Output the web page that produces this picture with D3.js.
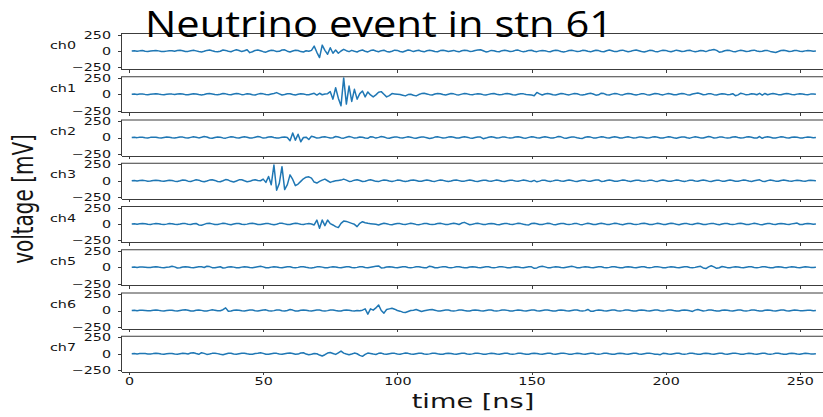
<!DOCTYPE html>
<html>
<head>
<meta charset="utf-8">
<script src="https://cdn.jsdelivr.net/npm/d3@7"></script>
<style>
  html, body { margin: 0; padding: 0; background: #fff; overflow: hidden; }
  svg { display: block; }
</style>
</head>
<body>
<svg id="chart" width="823" height="417"></svg>
<script>
// Recorded waveforms, one sample per ns, values in mV
const channelNames = ["ch0", "ch1", "ch2", "ch3", "ch4", "ch5", "ch6", "ch7"];

const ch0 = [
  0, 3, -5, 2, 6, -3, -8, 0, 5, 8, 2, -6, -9, -2, 5, 3,
  -3, 8, 12, 3, -9, -6, 5, 10, 2, -8, -15, -5, 9, 14, 3, -6,
  -12, -3, 15, 9, -5, -12, 6, 18, 8, -9, 3, 20, -25, -12, 9, 15,
  5, -10, -18, 0, 12, 6, -8, -5, 15, 18, -3, -15, 0, 12, 8, -9,
  -15, 3, -5, 10, 75, -20, -100, 90, 10, -50, 50, -35, 15, -35, 0, 25,
  5, -10, 10, -5, -15, 5, 15, -3, -14, 6, 14, 0, -12, 5, 12, -6,
  -14, -3, 13, 9, -8, -16, 0, 14, 6, -9, 3, 12, -5, -13, 3, 10,
  5, -8, -12, 6, 13, 3, -9, 0, 9, -5, -13, 3, 12, 8, -6, -3,
  8, 15, 20, 3, -14, -6, 9, 5, -8, -12, 5, 13, 3, -9, -3, 10,
  14, -2, -13, -5, 9, 12, -3, -10, 2, 9, 5, -6, -12, 3, 13, 6,
  -8, -16, -6, 8, 12, 2, -9, -3, 10, 8, -5, -13, 0, 12, 6, -8,
  -12, 3, 14, 5, -9, -6, 8, 13, 0, -10, -5, 9, 14, 3, -9, -14,
  -3, 10, 8, -6, -13, 2, 12, 9, -5, -12, 0, 13, 5, -8, -3, 9,
  12, -2, -10, -3, 8, 5, -9, 6, 14, 24, 10, -18, -12, 3, 12, 6,
  -6, -12, 2, 10, 5, -8, -5, 8, 13, 0, -9, -3, 9, 6, -6, -14,
  -22, -8, 8, 13, 3, -8, -3, 9, 6, -5, -9, 2, 8, 3, -3, 0
];
const ch1 = [
  0, 2, -3, 3, 5, -2, -6, 0, 3, 6, 2, -5, -8, 0, 5, 2,
  -5, 3, 9, 5, -6, -9, 0, 8, 5, -3, -10, -3, 6, 12, 5, -5,
  -9, 0, 10, 6, -5, -9, 3, 13, 6, -6, -2, 9, 5, -8, -12, 2,
  10, 6, -5, -9, 3, 12, 25, 6, -12, -5, 8, 9, -3, -10, 0, 8,
  5, -6, -9, 3, 15, -12, 15, -8, 3, 9, 40, -75, 100, -60, -175, 250,
  -150, 125, -110, 75, -75, 10, 50, -40, 35, -10, -40, -10, 30, 40, 0, -40,
  -20, 10, 5, 0, -5, -15, -25, -5, 0, -15, -25, -5, 10, 15, 5, -6,
  -12, 3, 13, 8, -5, -12, 0, 10, 6, -6, -10, 2, 12, 6, -5, -9,
  2, 9, 5, -6, -12, -2, 8, 10, 0, -9, -5, 6, 13, 5, -8, -10,
  0, 9, 6, -5, -8, -12, -22, 28, 6, -12, 3, 12, 5, -8, -12, 0,
  10, 6, -5, -10, 2, 12, 8, -6, -13, -3, 9, 14, 3, -14, -8, 16,
  10, -8, -12, 2, 10, 6, -6, -10, 3, 13, 8, -5, -12, -2, 9, 6,
  -6, -12, 0, 12, 9, -5, -10, 2, 10, 5, -8, -9, 3, 12, 6, -6,
  -12, 3, 12, 18, 8, -8, -5, 9, 6, -6, -10, 0, 9, 5, -6, -3,
  9, -22, -10, 16, 6, -9, -3, 8, 5, -8, 14, -15, 12, -8, 3, 10,
  5, -6, -9, 3, 10, 6, -5, -8, 2, 9, 5, -3, -6, 2, 5, 0
];
const ch2 = [
  0, 3, -2, 5, 2, -3, -6, 2, 5, 3, -5, -8, 0, 6, 3, -3,
  -8, 0, 9, 6, -5, -9, 2, 10, 5, -6, 3, 16, 8, -8, -12, 0,
  9, 5, -6, -10, 2, 12, 6, -5, -9, 3, 10, 5, -8, -6, 5, 14,
  6, -9, -5, 8, 10, 0, -9, -6, 5, 9, 0, -50, 70, -40, 50, -65,
  0, 5, -30, 20, 8, -9, -5, 8, 12, 2, -9, -3, 16, 8, -6, -10,
  5, 16, 6, -9, -3, 8, 5, -8, -12, 12, 6, -9, 2, 16, 8, -6,
  -12, 0, 9, 6, -5, -9, 2, 10, 5, -6, -10, 0, 9, 6, -5, -16,
  -9, 6, 10, 2, -8, -5, 6, 12, 3, -8, -9, 3, 10, 5, -6, -10,
  0, 9, 6, -18, -9, 5, 12, 3, -8, -5, 6, 9, -2, -9, -3, 8,
  12, 3, -8, -10, 2, 10, 6, -5, -9, 3, 10, 5, -6, -9, 2, 16,
  10, -6, -10, 0, 9, 6, -5, -12, -14, 3, 10, 6, -6, -9, 2, 10,
  6, -5, -9, 3, 12, 5, -8, -6, 5, 10, 2, -8, -5, 6, 9, 0,
  -9, -5, 6, 10, 3, -6, -9, 2, 12, 6, -5, -12, 0, 9, 8, -5,
  -10, 2, 10, 5, -6, -9, 3, 14, 6, -8, -5, 6, 9, -2, -9, -3,
  8, 10, 0, -9, -5, 6, 12, 3, -8, -9, 15, -12, 5, 10, 3, -6,
  -9, 2, 10, 6, -5, -8, 3, 9, 5, -6, -8, 2, 8, 3, -3, 0
];
const ch3 = [
  0, 5, -3, 3, 8, 2, -6, -5, 3, 9, 5, -5, -9, 0, 8, 5,
  -6, -10, 0, 12, 8, -6, -12, 2, 14, 9, -8, -14, -3, 10, 16, 5,
  -12, -16, 0, 18, 10, -9, -18, -3, 14, 16, 0, -14, -9, 8, 14, 5,
  0, 25, -25, 65, -60, 240, -145, -40, 215, -135, -60, 90, 20, -75, -50, -10,
  30, 55, 60, 40, -20, -35, -10, 10, 25, 0, -25, -10, 0, 5, 10, 25,
  10, -10, -6, 9, 15, 3, -12, -8, 6, 14, 5, -9, -13, 2, 12, 8,
  -5, -12, -2, 10, 9, -3, -10, -5, 8, 13, 3, -8, -9, 3, 12, 5,
  -8, -10, 2, 10, 6, -5, -12, -3, 9, 12, 2, -9, -6, 5, 10, 3,
  -6, -10, 0, 9, 8, -5, -9, 2, 12, 5, -8, -10, 0, 9, 6, -5,
  -9, 2, 10, 5, -6, -12, 5, -16, -6, 9, 8, -3, -10, -2, 9, 6,
  -5, -9, 3, 12, 5, -6, -10, 0, 9, 6, -6, -9, 3, 13, 12, -10,
  -8, 5, 10, 3, -8, -9, 2, 10, 6, -5, -10, 0, 9, 8, -3, -9,
  -2, 9, 6, -6, -10, 3, 12, 5, -8, -9, 2, 10, 6, -5, -12, -2,
  9, 8, -5, -9, 3, 12, 5, -6, -10, 0, 9, 6, -6, -9, 3, 10,
  5, -8, -9, 2, 10, 6, -5, -10, 0, 9, 14, -6, -12, 2, 10, 5,
  -6, -9, 3, 10, 5, -5, -8, 2, 9, 5, -5, -8, 2, 6, 3, 0
];
const ch4 = [
  0, 3, -3, 2, 6, 3, -5, -6, 2, 8, 5, -3, -8, -2, 6, 5,
  -3, -8, 0, 9, 6, -5, -9, 3, 8, -14, -20, -6, 9, 12, 2, -8,
  -9, 2, 10, 6, -5, -10, 0, 9, 8, -3, -9, -2, 8, 10, 3, -6,
  -9, 0, 9, 6, -5, -12, -3, 10, 12, 2, -9, -8, 5, 12, 6, -5,
  -9, 2, 8, 0, -15, 60, -65, 60, -25, 60, 5, -15, -40, -55, 10, 45,
  40, 25, 10, -5, -40, 10, 35, 20, 10, 5, 0, -5, -15, 0, 10, 5,
  -6, -10, 0, 9, 6, -5, -9, 2, 10, 5, -6, -10, -2, 9, 8, -3,
  -9, -3, 8, 10, 2, -8, -6, 5, 10, 3, -8, 14, 25, 6, -12, -5,
  6, 10, 2, -9, -6, 5, 9, 3, -6, -10, 0, 9, 6, -5, -9, 2,
  10, 6, -5, -12, -14, 8, 12, 3, -8, -9, 2, 10, 6, -6, -10, 0,
  9, 8, -3, -9, -2, 9, 6, -6, -10, 2, 12, 5, -8, -9, 3, 10,
  5, -6, -9, 2, 10, 6, -5, -10, 0, 9, 8, -3, -9, -2, 8, 10,
  3, -8, -9, 2, 10, 5, -6, -9, 3, 12, 6, -5, -10, 0, 9, 6,
  -5, -9, 3, 10, 5, -8, -9, 2, 9, 6, -5, -10, 0, 9, 8, -3,
  -9, -2, 8, 10, 3, -6, -9, 2, 10, 5, -6, -10, 0, 9, 6, -5,
  -8, 3, 9, 5, -5, -8, 2, 8, 14, -8, -6, 3, 8, 3, -3, 0
];
const ch5 = [
  0, 2, -3, 3, 5, 0, -5, -3, 3, 6, 2, -5, -6, 0, 5, 16,
  6, -12, -9, 3, 9, 5, -5, -8, 0, 8, 6, -3, 16, 10, -6, -9,
  0, 8, -12, -6, 5, 9, 2, -6, -8, 2, 9, 5, -5, -8, 0, 8,
  16, 6, -8, -9, 2, 9, 5, -5, -9, 0, 8, 6, -3, -9, -2, 8,
  9, 0, -8, -12, -5, 6, 9, 2, -6, -8, 2, 9, 5, -5, -9, 0,
  8, 6, -3, -9, -2, 9, 8, -3, -8, 0, 8, 14, 20, -10, -8, 3,
  9, 5, -5, -9, 0, 8, 6, -3, -8, -2, 8, 9, 0, -8, -6, 16,
  8, -8, -9, 2, 9, 6, -3, -9, -2, 8, 9, 0, -8, -6, 3, 9,
  5, -5, -9, 0, 8, 6, -3, -8, -2, 8, 9, 2, -6, -8, 2, 9,
  5, -5, -9, 0, 8, 6, -16, -10, 9, 16, 6, -6, -8, 2, 9, 5,
  -5, -8, 0, 8, 16, 6, -8, -9, 2, 9, 5, -5, -9, 0, 8, 6,
  -3, -9, -2, 8, 9, 0, -8, -6, 3, 9, 5, -5, -9, 0, 8, 6,
  -3, -8, -2, 8, 9, 2, -6, -8, 2, 9, 5, -5, -9, 0, 8, 6,
  -3, -9, -2, 9, 14, -10, -20, 6, 22, 6, -16, -8, 12, 5, -6, -8,
  2, 9, 5, -5, -9, 0, 8, 6, -3, -9, -2, 8, 9, 0, -8, -6,
  3, 9, 5, -5, -8, 2, 8, 5, -3, -6, 0, 6, 5, -2, -3, 0
];
const ch6 = [
  0, 3, -2, 3, 5, 0, -5, -3, 3, 6, 2, -5, -6, 0, 5, 3,
  -5, -8, 0, 8, 12, 3, -9, -6, 3, 8, 2, -6, -8, 2, 10, 5,
  -5, -3, 12, 40, -10, -8, 3, 9, 5, -5, -8, 0, 8, 6, -3, -8,
  0, 8, 10, -3, -9, -2, 8, 6, -3, -8, 0, 14, 6, -8, -6, 3,
  9, 5, -5, -8, 0, 8, 6, -3, -9, -2, 8, 9, 0, -8, -6, 3,
  9, 5, -5, -6, 0, -5, 5, 25, -55, 25, 5, 40, 85, 0, -40, 15,
  25, 35, 20, 0, -10, -25, -30, -15, 0, 5, 15, 0, -15, -5, 5, 10,
  15, 5, -6, -9, 0, 8, 6, -3, -8, -2, 8, 9, 0, -8, -6, 3,
  9, 5, -5, -9, 0, 8, 6, -3, -9, -2, 8, 9, 2, -6, -8, 2,
  9, 5, -5, -9, 0, 8, 6, -3, -8, 0, 8, 9, 0, -8, -6, 3,
  9, 5, -5, -8, 0, 8, 6, -3, -9, -2, 16, -10, -12, 2, 9, 5,
  -5, -9, 0, 8, 6, -3, -8, -2, 8, 9, 0, -8, -6, 3, 9, 5,
  -5, -9, 0, 8, 6, -3, -9, -2, 8, 9, 0, -8, -6, 3, 9, 5,
  -5, -14, 6, 16, 3, -9, -2, 8, 9, 0, -8, -6, 3, 9, 5, -5,
  -9, 0, 8, 6, -3, -9, -2, 8, 9, 0, -8, -6, 3, 9, 5, -5,
  -8, 0, 8, 6, -3, -8, 0, 6, 5, -2, -5, 0, 5, 3, -2, 0
];
const ch7 = [
  0, 3, -2, 2, 5, 2, -3, -5, 2, 6, 3, -3, -6, 0, 5, 3,
  -3, -6, 0, 6, 5, -3, 12, 16, 3, -8, 16, 6, -10, -5, 6, 9,
  2, -8, -16, -3, 8, 6, -3, -9, 0, 8, 9, 0, -8, -6, 3, 9,
  16, 6, -8, -9, 0, 9, 6, -5, -9, 0, 8, 10, 3, -9, -5, 12,
  15, -5, -15, -8, 5, 0, -20, -35, -15, 10, 20, 5, -10, 15, 40, 10,
  -5, -15, -5, 10, 0, -25, -40, -10, 10, 5, -5, -12, 6, 10, -3, -9,
  0, 9, 6, -5, -9, 2, 10, 6, -5, -9, 0, 8, 8, -3, -9, -2,
  8, 9, 0, -8, -6, 3, 9, 5, -5, -9, 0, 8, 6, -3, -8, -2,
  8, 9, 2, -6, -8, 2, 9, 5, -5, -9, 0, 8, 6, -3, -9, -2,
  8, 9, 0, -8, -6, 3, 9, 5, -5, -9, 0, 8, 6, -3, -8, 0,
  8, 9, 2, -6, -8, 2, 9, 5, -5, -9, 0, 8, 6, -3, -9, -2,
  8, 9, 0, -8, -6, 3, 9, 5, -5, -9, 0, 8, 6, -3, -8, 0,
  8, 9, 2, -6, -8, -14, 6, 5, -5, -9, 0, 8, 6, -3, -9, -2,
  8, 9, 0, -8, -6, 3, 9, 5, -5, -9, 0, 8, 6, -3, -8, 0,
  8, 9, 2, -6, -8, 2, 9, 5, -5, -9, 0, 8, 6, -3, -9, -2,
  8, 9, 0, -8, -6, 3, 8, 5, -5, -8, 0, 6, 5, -2, -5, 0
];

const traces = [ch0, ch1, ch2, ch3, ch4, ch5, ch6, ch7];
const firstSampleNs = 1;
const samplePeriodNs = 1;

const xTicks = [0, 50, 100, 150, 200, 250];
const yTicks = [-250, 0, 250];
const yTickLabels = ["\u2212250", "0", "250"];

const titleText = "Neutrino event in stn 61";
const xLabelText = "time [ns]";
const yLabelText = "voltage [mV]";

// ---- layout ----
const W = 823, H = 417;
const plotLeft = 121, plotRight = 832;
const firstTop = 33, panelPitch = 43.25, panelH = 36;
const textStretch = 1.43;           // horizontal widening of the figure text
const axisColor = "#3c3c3c";
const textColor = "#141414";
const lineColor = "#1f77b4";
const mplFont = "'DejaVu Sans', sans-serif";

const svg = d3.select("#chart");
svg.append("rect").attr("width", W).attr("height", H).attr("fill", "#fff");

const x = d3.scaleLinear().domain([-3, 262]).range([plotLeft, plotRight]);
const y = d3.scaleLinear().domain([-275, 275]).range([panelH, 0]);

const line = d3.line()
  .x((v, i) => x(firstSampleNs + i * samplePeriodNs))
  .y(v => y(v));

traces.forEach((trace, k) => {
  const top = firstTop + k * panelPitch;
  const g = svg.append("g").attr("transform", `translate(0,${top})`);
  const isLast = k === traces.length - 1;

  // top spine
  g.append("line")
    .attr("x1", plotLeft).attr("x2", plotRight)
    .attr("y1", 0.5).attr("y2", 0.5)
    .attr("stroke", axisColor).attr("stroke-width", 1);

  // y axis
  const yAxis = d3.axisLeft(y)
    .tickValues(yTicks)
    .tickSize(3.5)
    .tickSizeOuter(0)
    .tickFormat((d, i) => yTickLabels[i]);
  const ya = g.append("g").attr("transform", `translate(${plotLeft},0)`).call(yAxis);
  ya.select(".domain").attr("stroke", axisColor);
  ya.selectAll(".tick line").attr("stroke", axisColor);
  ya.selectAll(".tick text")
    .attr("x", null).attr("dy", "0.34em")
    .attr("transform", `translate(-10,0) scale(${textStretch},1)`)
    .attr("font-family", mplFont).attr("font-size", 10)
    .attr("fill", textColor);

  // x axis along the bottom of each panel
  const xAxis = d3.axisBottom(x)
    .tickValues(xTicks)
    .tickSize(3.5)
    .tickSizeOuter(0)
    .tickFormat(d => isLast ? String(d) : "");
  const xa = g.append("g").attr("transform", `translate(0,${panelH})`).call(xAxis);
  xa.select(".domain").attr("stroke", axisColor);
  xa.selectAll(".tick line").attr("stroke", axisColor);
  xa.selectAll(".tick text")
    .attr("transform", `scale(${textStretch},1)`)
    .attr("font-family", mplFont).attr("font-size", 10)
    .attr("fill", textColor);

  // trace
  g.append("path")
    .datum(trace)
    .attr("d", line)
    .attr("fill", "none")
    .attr("stroke", lineColor)
    .attr("stroke-width", 1.5)
    .attr("stroke-linejoin", "round");

  // channel name
  g.append("text")
    .attr("transform", `translate(76,15.5) scale(${textStretch},1)`)
    .attr("text-anchor", "end")
    .attr("font-family", mplFont).attr("font-size", 10)
    .attr("fill", textColor)
    .text(channelNames[k]);
});

svg.selectAll(".domain, .tick line").attr("shape-rendering", "crispEdges");

// axis titles
svg.append("text")
  .attr("transform", `translate(473,408) scale(${textStretch},1)`)
  .attr("text-anchor", "middle")
  .attr("font-family", mplFont).attr("font-size", 19)
  .attr("fill", textColor)
  .text(xLabelText);

svg.append("text")
  .attr("transform", `translate(33,199) scale(${textStretch},1) rotate(-90)`)
  .attr("text-anchor", "middle")
  .attr("font-family", mplFont).attr("font-size", 20)
  .attr("fill", textColor)
  .text(yLabelText);

// headline
svg.append("text")
  .attr("x", 145).attr("y", 36.5)
  .attr("font-family", "'Open Sans', 'Noto Sans', sans-serif")
  .attr("font-size", 37)
  .attr("textLength", 468)
  .attr("lengthAdjust", "spacingAndGlyphs")
  .attr("fill", "#000")
  .text(titleText);
</script>
</body>
</html>
